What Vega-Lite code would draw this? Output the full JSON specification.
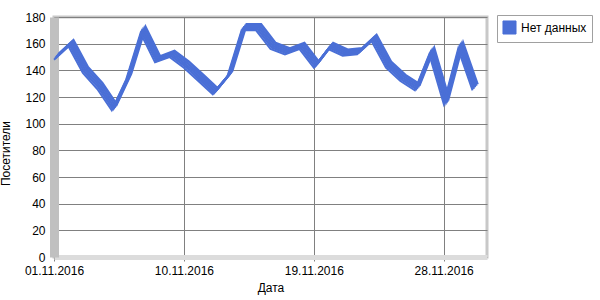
{
  "$schema": "https://vega.github.io/schema/vega-lite/v6.json",
  "autosize": "none",
  "width": 433,
  "height": 240,
  "padding": {"left": 54, "top": 17, "right": 113, "bottom": 43},
  "background": "white",
  "config": {
    "font": "Liberation Sans",
    "view": {"stroke": "#c8c8c8", "strokeWidth": 3},
    "axis": {"labelFont": "Liberation Sans", "titleFont": "Liberation Sans", "labelFontSize": 12, "titleFontSize": 12, "labelColor": "#000", "titleColor": "#000", "titleFontWeight": "normal", "gridColor": "#808080", "gridOpacity": 1, "gridWidth": 1, "tickColor": "#808080", "labelOverlap": false}
  },
  "data": {"values": [
    {"date": "2016/11/01", "v": 148, "s": "Нет данных"},
    {"date": "2016/11/02", "v": 158, "s": "Нет данных"},
    {"date": "2016/11/03", "v": 138, "s": "Нет данных"},
    {"date": "2016/11/04", "v": 126, "s": "Нет данных"},
    {"date": "2016/11/05", "v": 110, "s": "Нет данных"},
    {"date": "2016/11/06", "v": 133, "s": "Нет данных"},
    {"date": "2016/11/07", "v": 168, "s": "Нет данных"},
    {"date": "2016/11/08", "v": 146, "s": "Нет данных"},
    {"date": "2016/11/09", "v": 150, "s": "Нет данных"},
    {"date": "2016/11/10", "v": 142, "s": "Нет данных"},
    {"date": "2016/11/11", "v": 132, "s": "Нет данных"},
    {"date": "2016/11/12", "v": 122, "s": "Нет данных"},
    {"date": "2016/11/13", "v": 135, "s": "Нет данных"},
    {"date": "2016/11/14", "v": 170, "s": "Нет данных"},
    {"date": "2016/11/15", "v": 170, "s": "Нет данных"},
    {"date": "2016/11/16", "v": 156, "s": "Нет данных"},
    {"date": "2016/11/17", "v": 152, "s": "Нет данных"},
    {"date": "2016/11/18", "v": 156, "s": "Нет данных"},
    {"date": "2016/11/19", "v": 142, "s": "Нет данных"},
    {"date": "2016/11/20", "v": 156, "s": "Нет данных"},
    {"date": "2016/11/21", "v": 151, "s": "Нет данных"},
    {"date": "2016/11/22", "v": 152, "s": "Нет данных"},
    {"date": "2016/11/23", "v": 162, "s": "Нет данных"},
    {"date": "2016/11/24", "v": 142, "s": "Нет данных"},
    {"date": "2016/11/25", "v": 132, "s": "Нет данных"},
    {"date": "2016/11/26", "v": 125, "s": "Нет данных"},
    {"date": "2016/11/27", "v": 152, "s": "Нет данных"},
    {"date": "2016/11/28", "v": 115, "s": "Нет данных"},
    {"date": "2016/11/29", "v": 156, "s": "Нет данных"},
    {"date": "2016/11/30", "v": 125, "s": "Нет данных"}
  ]},
  "encoding": {
    "x": {"field": "date", "type": "temporal",
      "scale": {"domain": [{"year": 2016, "month": 11, "date": 1}, {"year": 2016, "month": 12, "date": 1}]},
      "axis": {"title": "Дата", "format": "%d.%m.%Y", "values": [{"year": 2016, "month": 11, "date": 1}, {"year": 2016, "month": 11, "date": 10}, {"year": 2016, "month": 11, "date": 19}, {"year": 2016, "month": 11, "date": 28}], "labelAlign": "center", "labelPadding": 4, "titlePadding": 6, "domainColor": "#dcdcdc", "domainWidth": 5, "tickSize": 4, "labelFlush": false}},
    "y": {"field": "v", "type": "quantitative",
      "scale": {"domain": [0, 180], "nice": false, "zero": true},
      "axis": {"title": "Посетители", "titleY": 136, "titleAlign": "center", "values": [0, 20, 40, 60, 80, 100, 120, 140, 160, 180], "domainColor": "#c0c0c0", "domainWidth": 9, "tickSize": 0, "labelPadding": 9, "titlePadding": 12, "labelOverlap": false}},
    "color": {"field": "s", "type": "nominal", "scale": {"range": ["#4a6fd6"]},
      "legend": {"title": null, "orient": "none", "legendX": 443, "legendY": -2, "symbolType": "square", "symbolSize": 170, "symbolFillColor": "#4a6fd6", "symbolStrokeColor": "#2a4a9a", "symbolStrokeWidth": 1, "labelFontSize": 12, "labelColor": "#000", "labelFont": "Liberation Sans", "strokeColor": "#a0a0a0", "padding": 5, "fillColor": "white"}}
  },
  "layer": [
    {"mark": {"type": "line", "strokeWidth": 2.5, "xOffset": 5, "yOffset": -6, "color": "#3a5cc0"}},
    {"mark": {"type": "line", "strokeWidth": 2.5, "xOffset": 3.75, "yOffset": -4.5}},
    {"mark": {"type": "line", "strokeWidth": 2.5, "xOffset": 2.5, "yOffset": -3}},
    {"mark": {"type": "line", "strokeWidth": 2.5, "xOffset": 1.25, "yOffset": -1.5}},
    {"mark": {"type": "line", "strokeWidth": 2, "xOffset": 0, "yOffset": 0, "color": "#3558b8"}}
  ]
}
